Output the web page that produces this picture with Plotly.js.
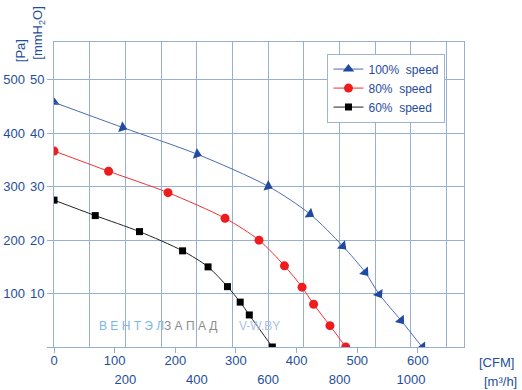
<!DOCTYPE html>
<html>
<head>
<meta charset="utf-8">
<script src="https://cdn.plot.ly/plotly-3.0.1.min.js"></script>
<style>html,body{margin:0;padding:0;background:#fff;}#chart{width:522px;height:390px;}</style>
</head>
<body>
<div id="chart"></div>
<script>
// Airflow in CFM and static pressure in mmH2O
const cfm100 = [0, 113, 236, 353, 422, 476, 513, 536, 572, 607];
const p100   = [45.8, 41.1, 36.1, 30.1, 24.9, 18.9, 14.0, 9.9, 5.0, 0.0];
const cfm80  = [0, 90, 188, 282, 338, 380, 409, 428, 455, 481];
const p80    = [36.7, 32.9, 28.9, 24.1, 20.0, 15.2, 11.2, 8.0, 4.0, 0.0];
const cfm60  = [0, 68, 141, 212, 254, 286, 307, 322, 360];
const p60    = [27.5, 24.6, 21.6, 18.0, 15.0, 11.3, 8.4, 6.0, 0.0];

const seriesNames = ["100%\u00a0\u00a0speed", "80%\u00a0\u00a0speed", "60%\u00a0\u00a0speed"];

const cfmTicks = [0, 100, 200, 300, 400, 500, 600];
const m3hTicks = [0, 100, 200, 300, 400, 500, 600, 700, 800, 900, 1000, 1100];
const m3hLabels = ["", "", "200", "", "400", "", "600", "", "800", "", "1000", ""];
const mmTicks = [0, 10, 20, 30, 40, 50];
const mmLabels = ["", "10", "20", "30", "40", "50"];
const paTicks = [100, 200, 300, 400, 500];

const CFM_TO_M3H = 1.699;
const cfmMax = 676;
const mmMax = 57.1;

const tickFont = {family: "'Liberation Sans', Arial, sans-serif", size: 13, color: "#1f4e9c"};
const gridCol = "#98afd2";
const blueLine = {color: "#4a6cb0", width: 1, shape: "spline", smoothing: 0.8};

const traces = [
  // first point of the 100% curve (no previous point to orient it) – also carries the legend entry
  {x: [cfm100[0]], y: [p100[0]], name: seriesNames[0], type: "scatter", mode: "lines+markers",
   line: blueLine, marker: {symbol: "triangle-up", size: 10, color: "#1f4aa0"}, legendrank: 1},
  {x: cfm100, y: p100, name: seriesNames[0], type: "scatter", mode: "lines+markers", showlegend: false,
   line: blueLine,
   marker: {symbol: "triangle-up", size: 10, color: "#1f4aa0", angleref: "previous"}},
  {x: cfm80, y: p80, name: seriesNames[1], type: "scatter", mode: "lines+markers", legendrank: 2,
   line: {color: "#f03030", width: 1, shape: "spline", smoothing: 0.8},
   marker: {symbol: "circle", size: 9, color: "#ee1c1c"}},
  {x: cfm60, y: p60, name: seriesNames[2], type: "scatter", mode: "lines+markers", legendrank: 3,
   line: {color: "#222222", width: 1, shape: "spline", smoothing: 0.8},
   marker: {symbol: "square", size: 7, color: "#000000"}},
  // invisible helper trace to activate the secondary axes
  {x: [0], y: [0], xaxis: "x2", yaxis: "y2", mode: "markers", marker: {opacity: 0}, showlegend: false, hoverinfo: "skip"}
];

const layout = {
  width: 522, height: 390,
  margin: {l: 54, r: 58, t: 42, b: 43.3},
  paper_bgcolor: "#fff", plot_bgcolor: "#fff",
  showlegend: true,
  legend: {x: 0.667, y: 0.962, xanchor: "left", yanchor: "top",
           bgcolor: "#fff", bordercolor: "#9fb3d3", borderwidth: 1,
           font: {family: "'Liberation Sans', Arial, sans-serif", size: 12, color: "#1f4aa0"}},
  xaxis: {range: [0, cfmMax], tickvals: cfmTicks, ticks: "outside", ticklen: 5, tickcolor: gridCol,
          showgrid: false, zeroline: false, showline: true, mirror: true, linecolor: gridCol, linewidth: 1,
          tickfont: tickFont, ticklabelstandoff: -4},
  xaxis2: {overlaying: "x", side: "bottom", range: [0, cfmMax * CFM_TO_M3H], tickvals: m3hTicks, ticktext: m3hLabels,
           ticks: "", showgrid: true, gridcolor: gridCol, gridwidth: 1, zeroline: false, showline: false,
           tickfont: tickFont, ticklabelstandoff: 23},
  yaxis: {range: [0, mmMax], tickvals: mmTicks, ticktext: mmLabels, ticks: "outside", ticklen: 6, tickcolor: gridCol,
          showgrid: true, gridcolor: gridCol, zeroline: false, showline: true, mirror: true, linecolor: gridCol,
          tickfont: tickFont},
  yaxis2: {overlaying: "y", side: "left", range: [0, mmMax * 10], tickvals: paTicks, ticks: "",
           showgrid: false, zeroline: false, showline: false, tickfont: tickFont, ticklabelstandoff: 28},
  annotations: [
    {text: "[Pa]", xref: "paper", yref: "paper", x: -0.083, y: 0.973, textangle: -90, showarrow: false,
     font: tickFont, xanchor: "center", yanchor: "middle"},
    {text: "[mmH<sub>2</sub>O]", xref: "paper", yref: "paper", x: -0.037, y: 1.03, textangle: -90, showarrow: false,
     font: tickFont, xanchor: "center", yanchor: "middle"},
    {text: "[CFM]", xref: "paper", yref: "paper", x: 1.08, y: -0.05, showarrow: false,
     font: tickFont, xanchor: "center", yanchor: "middle"},
    {text: "[m³/h]", xref: "paper", yref: "paper", x: 1.088, y: -0.112, showarrow: false,
     font: tickFont, xanchor: "center", yanchor: "middle"},
    {text: "В Е Н Т Э Л", xref: "paper", yref: "paper", x: 0.19, y: 0.07, showarrow: false,
     font: {family: "'Liberation Sans', Arial, sans-serif", size: 12, color: "#7db6e8"}, xanchor: "center", yanchor: "middle"},
    {text: "З А П А Д", xref: "paper", yref: "paper", x: 0.332, y: 0.07, showarrow: false,
     font: {family: "'Liberation Sans', Arial, sans-serif", size: 12, color: "#8c8c8c"}, xanchor: "center", yanchor: "middle"},
    {text: "V-W.BY", xref: "paper", yref: "paper", x: 0.502, y: 0.07, showarrow: false,
     font: {family: "'Liberation Sans', Arial, sans-serif", size: 12, color: "#a9c2de"}, xanchor: "center", yanchor: "middle"}
  ]
};

Plotly.newPlot("chart", traces, layout, {staticPlot: true, displayModeBar: false});
</script>
</body>
</html>
